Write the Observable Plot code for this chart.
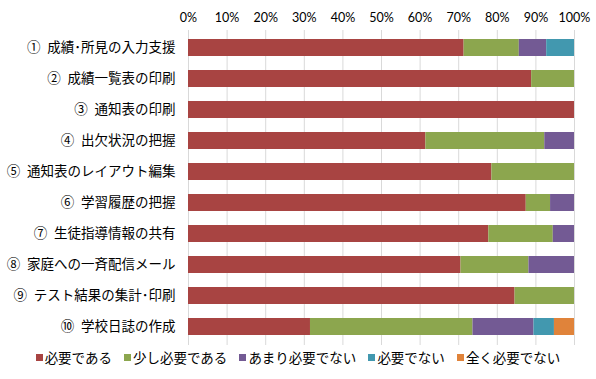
<!DOCTYPE html>
<html>
<head>
<meta charset="utf-8">
<script src="https://cdn.jsdelivr.net/npm/d3@7"></script>
<script src="https://cdn.jsdelivr.net/npm/@observablehq/plot@0.6"></script>
<style>
  html, body { margin: 0; padding: 0; background: #fff; }
  #chart { width: 596px; }
  .legend { display: flex; justify-content: center; align-items: center; gap: 12px;
    font-family: "Noto Sans CJK JP", sans-serif; font-size: 13.5px; line-height: 20px; color: #000; height: 20px; }
  .legend .item { display: flex; align-items: center; white-space: nowrap; }
  .legend .sw { width: 7px; height: 7px; margin-right: 2px; display: inline-block; }
</style>
</head>
<body>
<div id="chart"></div>
<script>
const categories = [
  "①\u2002成績･所見の入力支援",
  "②\u2002成績一覧表の印刷",
  "③\u2002通知表の印刷",
  "④\u2002出欠状況の把握",
  "⑤\u2002通知表のレイアウト編集",
  "⑥\u2002学習履歴の把握",
  "⑦\u2002生徒指導情報の共有",
  "⑧\u2002家庭への一斉配信メール",
  "⑨\u2002テスト結果の集計･印刷",
  "⑩\u2002学校日誌の作成"
];
const seriesNames = ["必要である", "少し必要である", "あまり必要でない", "必要でない", "全く必要でない"];
const necessary   = [71.4, 88.9, 100, 61.5, 78.6, 87.5, 77.8, 70.6, 84.6, 31.6];
const somewhat    = [14.3, 11.1, 0, 30.8, 21.4, 6.3, 16.7, 17.6, 15.4, 42.1];
const notMuch     = [7.1, 0, 0, 7.7, 0, 6.2, 5.5, 11.8, 0, 15.8];
const notNeeded   = [7.2, 0, 0, 0, 0, 0, 0, 0, 0, 5.3];
const notAtAll    = [0, 0, 0, 0, 0, 0, 0, 0, 0, 5.2];
const xTicks = [0, 10, 20, 30, 40, 50, 60, 70, 80, 90, 100];
const colors = ["#A84442", "#8CA64E", "#735A94", "#4298AF", "#E0833A"];

const seriesValues = [necessary, somewhat, notMuch, notNeeded, notAtAll];
const data = categories.flatMap((c, i) =>
  seriesNames.map((s, j) => ({category: c, series: s, value: seriesValues[j][i]}))
);

const chart = Plot.plot({
  width: 596,
  height: 347,
  marginTop: 30,
  marginBottom: 2,
  marginLeft: 188,
  marginRight: 22,
  style: {fontFamily: "'Noto Sans CJK JP', sans-serif", color: "#000", background: "#fff"},
  x: {domain: [0, 100]},
  y: {domain: categories, paddingInner: 0.44, paddingOuter: 0.22},
  color: {domain: seriesNames, range: colors},
  marks: [
    Plot.ruleX(xTicks, {stroke: "#d9d9d9", strokeWidth: 1}),
    Plot.barX(data, {x: "value", y: "category", fill: "series"}),
    Plot.axisX({anchor: "top", ticks: xTicks, tickSize: 0, tickPadding: 9, tickFormat: d => d + "%",
      fontSize: 12.5, fontFamily: "Lato, 'Noto Sans', sans-serif", label: null}),
    Plot.axisY({tickSize: 0, tickPadding: 13, fontSize: 13.5, label: null})
  ]
});
document.getElementById("chart").appendChild(chart);

const legend = document.createElement("div");
legend.className = "legend";
seriesNames.forEach((s, i) => {
  const item = document.createElement("span");
  item.className = "item";
  const sw = document.createElement("span");
  sw.className = "sw";
  sw.style.background = colors[i];
  item.appendChild(sw);
  item.appendChild(document.createTextNode(s));
  legend.appendChild(item);
});
document.getElementById("chart").appendChild(legend);
</script>
</body>
</html>
